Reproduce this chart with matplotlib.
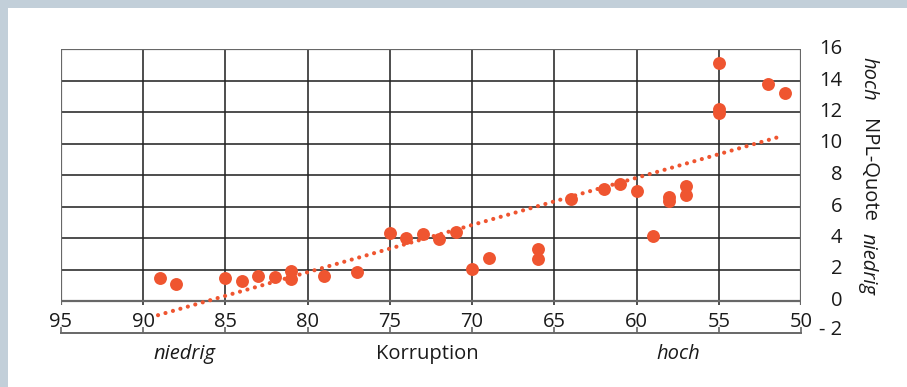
import matplotlib
matplotlib.use("Agg")
import matplotlib.pyplot as plt
from matplotlib.patches import Rectangle

plt.rcParams['font.family'] = ['Open Sans', 'DejaVu Sans']

# Corruption index (x) vs. NPL ratio in percent (y)
korruption = [89, 88, 85, 84, 83, 82, 81, 81, 79, 77,
              75, 74, 73, 72, 71, 70, 69, 66, 66,
              64, 62, 61, 60, 59, 58, 58, 57, 57,
              55, 55, 55, 52, 51]
npl_quote = [1.45, 1.08, 1.47, 1.27, 1.58, 1.52, 1.9, 1.42, 1.6, 1.86,
             4.33, 4.0, 4.25, 3.92, 4.37, 2.02, 2.76, 3.27, 2.65,
             6.46, 7.08, 7.45, 7.0, 4.15, 6.62, 6.36, 7.33, 6.7,
             15.12, 12.2, 11.95, 13.78, 13.18]

# Linear trend, start and end points
trend_x = [89.1, 51.4]
trend_y = [-0.9, 10.4]

x_ticks = [95, 90, 85, 80, 75, 70, 65, 60, 55, 50]
y_ticks = [16, 14, 12, 10, 8, 6, 4, 2, 0, -2]
y_tick_labels = ['16', '14', '12', '10', '8', '6', '4', '2', '0', '- 2']

ORANGE = '#ef5530'
GRID = '#262626'
FRAME = '#676767'
BAND = '#c2cfd9'
TEXT = '#1a1a1a'
FS = 14.5

W, H = 907, 387
fig = plt.figure(figsize=(W / 100, H / 100), dpi=100)
fig.patch.set_facecolor('white')

# light border bands at the top and left
fig.add_artist(Rectangle((0, 1 - 8 / H), 1, 8 / H, transform=fig.transFigure,
                         facecolor=BAND, edgecolor='none'))
fig.add_artist(Rectangle((0, 0), 8 / W, 1, transform=fig.transFigure,
                         facecolor=BAND, edgecolor='none'))

left, right = 61 / W, 801 / W
top, bottom = 1 - 49 / H, 1 - 332.5 / H
ax = fig.add_axes([left, bottom, right - left, top - bottom])
ax.set_xlim(95, 50)
ax.set_ylim(-2, 16)
ax.patch.set_alpha(0)

for s in ['top', 'left', 'right']:
    ax.spines[s].set_visible(False)
ax.spines['bottom'].set_color(FRAME)
ax.spines['bottom'].set_linewidth(1.4)

ax.set_xticks(x_ticks)
ax.tick_params(axis='x', direction='in', length=4, width=1.2, color=FRAME,
               labelbottom=False)
ax.set_yticks([])

# grid inside the 0..16 box
for xv in x_ticks[1:-1]:
    ax.plot([xv, xv], [-0.25, 16], color=GRID, lw=1.15, zorder=1,
            solid_capstyle='butt')
for yv in range(2, 16, 2):
    ax.plot([95, 50], [yv, yv], color=GRID, lw=1.15, zorder=1,
            solid_capstyle='butt')
for xv in (95, 50):
    ax.plot([xv, xv], [-0.25, 16], color=FRAME, lw=1.6, zorder=1,
            solid_capstyle='butt')
for yv in (0, 16):
    ax.plot([95, 50], [yv, yv], color=FRAME, lw=1.6, zorder=1,
            solid_capstyle='projecting')

# x tick labels sit between the box and the axis line
for xv in x_ticks:
    ax.text(xv, -1.36, str(xv), ha='center', va='center', fontsize=FS,
            color=TEXT)

# y tick labels on the right
ytrans = ax.get_yaxis_transform()
for yv, lab in zip(y_ticks, y_tick_labels):
    yy = -1.85 if yv == -2 else yv
    ax.text(1 + 41 / 740, yy, lab, transform=ytrans, ha='right', va='center',
            fontsize=FS, color=TEXT)

# trend line and points
ax.plot(trend_x, trend_y, color=ORANGE, lw=3.0, linestyle=(0, (0.01, 1.85)),
        dash_capstyle='round', zorder=2)
ax.plot(korruption, npl_quote, 'o', color=ORANGE, markersize=9.3,
        markeredgewidth=0, zorder=3)

# axis captions
def fig_xy(px, py):
    return px / W, 1 - py / H

for txt, px, style in [('niedrig', 185, 'italic'), ('Korruption', 427, 'normal'),
                       ('hoch', 678, 'italic')]:
    fx, fy = fig_xy(px, 354)
    fig.text(fx, fy, txt, ha='center', va='center', fontsize=FS,
             style=style, color=TEXT)

for txt, py, style in [('hoch', 79, 'italic'), ('NPL-Quote', 170, 'normal'),
                       ('niedrig', 264, 'italic')]:
    fx, fy = fig_xy(868, py)
    fig.text(fx, fy, txt, ha='center', va='center', fontsize=FS,
             style=style, rotation=270, color=TEXT)

fig.savefig('out.png', dpi=100)
